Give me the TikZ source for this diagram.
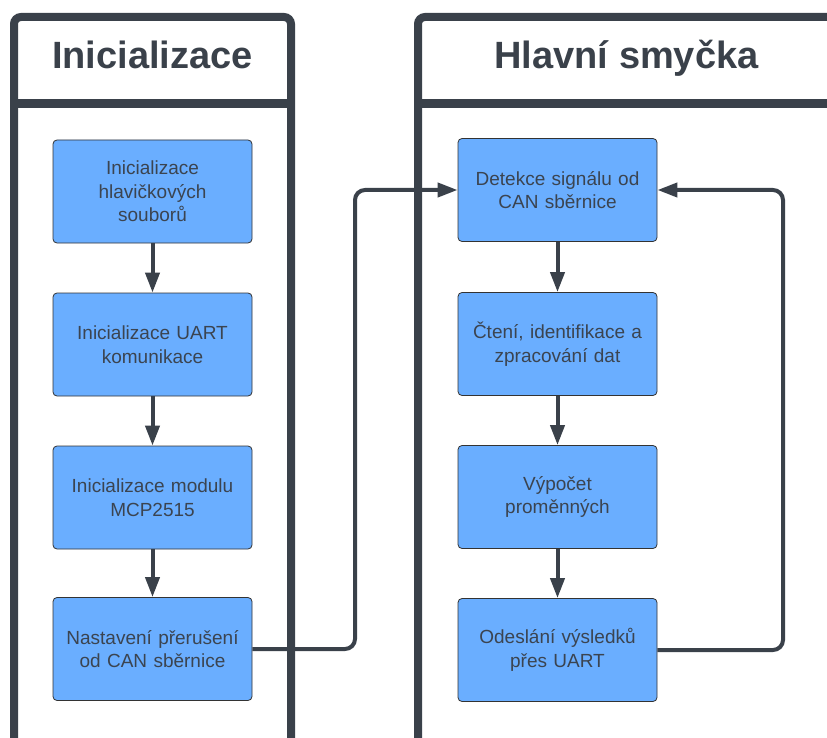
\documentclass[tikz,border=0pt]{standalone}
\usepackage{fontspec}
\setmainfont{Liberation Sans}
\usetikzlibrary{arrows.meta}
\definecolor{frame}{HTML}{3A414A}
\definecolor{boxfill}{HTML}{6AAEFF}
\definecolor{txt}{HTML}{3B4450}
\tikzset{
  panel/.style={draw=frame, line width=8pt, rounded corners=7pt},
  title/.style={text=frame, font=\fontsize{38}{42}\selectfont\bfseries, anchor=base},
  stepbox/.style={draw=black!80, line width=0.8pt, fill=boxfill, rounded corners=4pt,
    minimum width=199pt, minimum height=103pt, text width=190pt, align=center,
    text=txt, font=\fontsize{19}{23.5}\selectfont, inner sep=0pt},
  conn/.style={draw=frame, line width=4pt, rounded corners=10pt},
  arr/.style={-{Triangle[length=20pt,width=14pt]}}
}
\begin{document}
\begin{tikzpicture}[x=1pt,y=-1pt]
\useasboundingbox (0,0) rectangle (827,738);
\clip (0,0) rectangle (827,738);
\fill[white] (0,0) rectangle (827,738);
% panels
\draw[panel] (14,17) rectangle (291,780);
\draw[frame, line width=8.5pt] (14,103.5) -- (291,103.5);
\draw[panel] (418,17) rectangle (836,780);
\draw[frame, line width=8.5pt] (418,103.5) -- (836,103.5);
\node[title] (t1) at (152.5,68.5) {Inicializace};
\node[title] (t2) at (626.5,68.5) {Hlavní smyčka};
% left boxes
\node[stepbox] (a1) at (152.5,191.5) {Inicializace\\hlavičkových\\souborů};
\node[stepbox] (a2) at (152.5,344.5) {Inicializace UART\\komunikace};
\node[stepbox] (a3) at (152.5,497.5) {Inicializace modulu\\MCP2515};
\node[stepbox] (a4) at (152.5,649) {Nastavení přerušení\\od CAN sběrnice};
% right boxes
\node[stepbox] (b1) at (557.5,190) {Detekce signálu od\\CAN sběrnice};
\node[stepbox] (b2) at (557.5,344) {Čtení, identifikace a\\zpracování dat};
\node[stepbox] (b3) at (557.5,497) {Výpočet\\proměnných};
\node[stepbox] (b4) at (557.5,650) {Odeslání výsledků\\přes UART};
% vertical arrows
\draw[conn, arr] (a1) -- (a2);
\draw[conn, arr] (a2) -- (a3);
\draw[conn, arr] (a3) -- (a4);
\draw[conn, arr] (b1) -- (b2);
\draw[conn, arr] (b2) -- (b3);
\draw[conn, arr] (b3) -- (b4);
% cross connector
\coordinate (c1) at (355,649);
\coordinate (c2) at (355,190);
\draw[conn, arr] (a4.east) -- (c1) -- (c2) -- (b1.west);
% loop
\coordinate (l1) at (783,650);
\coordinate (l2) at (783,190);
\draw[conn, arr] (b4.east) -- (l1) -- (l2) -- (b1.east);
\end{tikzpicture}
\end{document}
